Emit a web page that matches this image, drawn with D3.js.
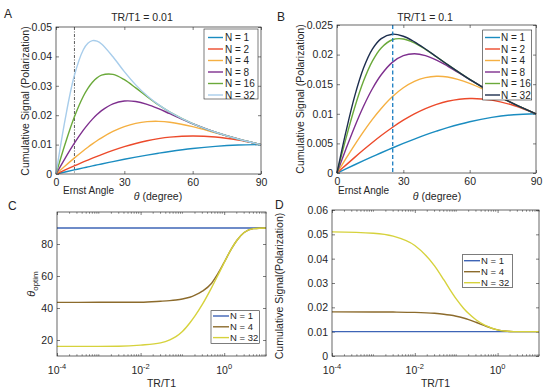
<!DOCTYPE html>
<html><head><meta charset="utf-8">
<script src="https://cdn.jsdelivr.net/npm/d3@7"></script>
<style>
body{margin:0;background:#fff}
svg text{font-family:"Liberation Sans",Arial,Helvetica,sans-serif;fill:#262626}
</style>
</head><body>
<svg id="chart" width="550" height="392"></svg>
<script>
// ---------------- DATA ----------------
const seriesAB = ["N = 1", "N = 2", "N = 4", "N = 8", "N = 16", "N = 32"];
const seriesCD = ["N = 1", "N = 4", "N = 32"];

// Panel A : TR/T1 = 0.01  (theta in degrees, cumulative signal)
const titleA = "TR/T1 = 0.01";
const ernstA = 8.1;
const thetaA = [0, 4, 8, 12, 14, 16, 18, 20, 25, 30, 35, 40, 45, 50, 60, 70, 80, 90];
const a_N1  = [0, .000698, .001392, .002079, .002419, .002756, .003090, .003420, .004226, .005000, .005736, .006428, .007071, .007660, .008660, .009397, .009848, .01];
const a_N2  = [0, .001387, .002756, .004093, .004743, .005380, .006000, .006602, .008018, .009287, .010387, .011303, .012021, .012535, .012947, .012579, .011541, .01];
const a_N4  = [0, .002739, .005405, .007931, .009120, .010252, .011319, .012317, .014474, .016114, .017220, .017804, .017913, .017612, .016120, .014021, .011882, .01];
const a_N8  = [0, .005345, .010400, .014906, .016887, .018663, .020217, .021543, .023857, .024824, .024669, .023695, .022216, .020501, .017088, .014206, .011893, .01];
const a_N16 = [0, .010183, .019278, .026437, .029135, .031222, .032708, .033634, .033881, .032074, .029285, .026289, .023498, .021052, .017150, .014208, .011893, .01];
const a_N32 = [0, .018528, .033326, .042258, .044461, .045362, .045194, .044227, .039864, .034811, .030311, .026604, .023576, .021068, .017150, .014208, .011893, .01];

// Panel B : TR/T1 = 0.1
const titleB = "TR/T1 = 0.1";
const ernstB = 25.2;
const thetaB = [0, 4, 8, 12, 16, 20, 25, 30, 35, 40, 45, 50, 60, 70, 80, 90];
const b_N1  = [0, .000698, .001392, .002079, .002756, .003420, .004226, .005000, .005736, .006428, .007071, .007660, .008660, .009397, .009848, .01];
const b_N2  = [0, .001327, .002639, .003919, .005154, .006328, .007692, .008918, .009987, .010883, .011595, .012116, .012578, .012305, .011395, .01];
const b_N4  = [0, .002409, .004757, .006989, .009053, .010897, .012865, .014394, .015474, .016112, .016342, .016214, .015153, .013483, .011677, .01];
const b_N8  = [0, .004008, .007824, .011278, .014235, .016592, .018683, .019822, .020144, .019831, .019081, .018070, .015788, .013607, .011684, .01];
const b_N16 = [0, .005773, .011075, .015525, .018898, .021125, .022505, .022640, .021979, .020888, .019616, .018306, .015816, .013608, .011684, .01];
const b_N32 = [0, .006894, .012988, .017727, .020926, .022701, .023447, .023098, .022162, .020947, .019632, .018309, .015816, .013608, .011684, .01];

// Panels C, D : versus TR/T1 (log axis)
const ratioCD = [1e-4, 1e-3, 3e-3, 1e-2, 3e-2, 5e-2, 7e-2, 0.1, 0.15, 0.2, 0.3, 0.5, 0.7, 1, 1.5, 2, 3, 5, 10];
const c_N1  = [90, 90, 90, 90, 90, 90, 90, 90, 90, 90, 90, 90, 90, 90, 90, 90, 90, 90, 90];
const c_N4  = [43.5, 43.55, 43.6, 43.6, 44.2, 44.6, 45.0, 45.6, 46.7, 48.0, 50.5, 55.5, 61.3, 68.6, 77.1, 82.2, 87.15, 89.6, 90];
const c_N32 = [16.0, 16.0, 16.1, 16.8, 18.2, 20.1, 22.1, 25.3, 30.6, 35.05, 42.2, 52.7, 60.2, 68.4, 77.1, 82.2, 87.15, 89.6, 90];
const d_N1  = [.01, .01, .01, .01, .01, .01, .01, .01, .01, .01, .01, .01, .01, .01, .01, .01, .01, .01, .01];
const d_N4  = [.01812, .01810, .01806, .01793, .01755, .01718, .01683, .016345, .015606, .01496, .013875, .01238, .011481, .01075, .010259, .010093, .010012, .01, .01];
const d_N32 = [.05099, .05044, .04924, .04541, .03704, .03134, .02738, .02345, .01964, .01742, .01489, .01258, .01152, .01075, .01026, .01009, .01001, .01, .01];

// tick values
const thetaTicks = [0, 30, 60, 90];
const yTicksA = [0, 0.01, 0.02, 0.03, 0.04, 0.05];
const yTicksB = [0, 0.005, 0.01, 0.015, 0.02, 0.025];
const yTicksC = [20, 40, 60, 80];
const yTicksD = [0, 0.01, 0.02, 0.03, 0.04, 0.05, 0.06];
const logLabelExp = [-4, -2, 0];

// ---------------- STYLE / LAYOUT ----------------
const INK = "#262626";
const FONT = '"Liberation Sans", Arial, Helvetica, sans-serif';
const colorsA = ["#1a8cc0", "#ec4a2b", "#f5b042", "#7e2f8e", "#6aa93a", "#a8cdeb"];
const colorsB = ["#1a8cc0", "#ec4a2b", "#f5b042", "#7e2f8e", "#6aa93a", "#1d2e4e"];
const colorsCD = ["#3e64b6", "#8c6b2c", "#d6d23c"];

const svg = d3.select("#chart");

const PA = {l: 56, r: 261, t: 27, b: 174};
const PB = {l: 337, r: 536, t: 25, b: 173};
const PC = {l: 57, r: 266, t: 212, b: 356};
const PD = {l: 332, r: 539, t: 210, b: 356};

function fmtNum(v) { return v === 0 ? "0" : String(+v.toFixed(3)); }

function axesFrame(p, x, y, o) {
  const g = svg.append("g").attr("font-family", FONT);
  const gb = g.append("g").attr("transform", `translate(0,${p.b})`)
    .call(d3.axisBottom(x).tickValues(o.xTicks).tickSize(-3).tickPadding(5).tickFormat(o.xFmt || (() => "")));
  g.append("g").attr("transform", `translate(0,${p.t})`)
    .call(d3.axisTop(x).tickValues(o.xTicks).tickSize(-3).tickFormat(() => ""));
  g.append("g").attr("transform", `translate(${p.l},0)`)
    .call(d3.axisLeft(y).tickValues(o.yTicks).tickSize(-3).tickPadding(4).tickFormat(o.yFmt));
  g.append("g").attr("transform", `translate(${p.r},0)`)
    .call(d3.axisRight(y).tickValues(o.yTicks).tickSize(-3).tickFormat(() => ""));
  g.selectAll("g").attr("font-family", FONT).attr("font-size", 10.5);
  g.selectAll(".domain").remove();
  g.selectAll(".tick line").attr("stroke", INK).attr("stroke-width", 0.6);
  g.selectAll(".tick text").attr("fill", INK);
  return g;
}

function box(p) {
  svg.append("rect").attr("x", p.l).attr("y", p.t).attr("width", p.r - p.l).attr("height", p.b - p.t)
    .attr("fill", "none").attr("stroke", INK).attr("stroke-width", 0.7);
}

function drawSeries(xs, list, x, y, colors, curve) {
  list.forEach((vals, i) => {
    const line = d3.line().x((d, j) => x(xs[j])).y(d => y(d)).curve(curve);
    svg.append("path").attr("d", line(vals)).attr("fill", "none")
      .attr("stroke", colors[i]).attr("stroke-width", 1.4).attr("stroke-linejoin", "round");
  });
}

function legend(bx, names, colors, rowY0, rowDy, lx0, lx1, tx, fs) {
  svg.append("rect").attr("x", bx.x).attr("y", bx.y).attr("width", bx.w).attr("height", bx.h)
    .attr("fill", "#fff").attr("stroke", INK).attr("stroke-width", 0.6);
  names.forEach((n, i) => {
    const yy = rowY0 + i * rowDy;
    svg.append("line").attr("x1", lx0).attr("x2", lx1).attr("y1", yy).attr("y2", yy)
      .attr("stroke", colors[i]).attr("stroke-width", 1.4);
    svg.append("text").attr("x", tx).attr("y", yy).attr("dy", "0.36em")
      .attr("font-size", fs).text(n);
  });
}

function logMinor(p, x) {
  const vals = [];
  for (let k = -4; k <= 0; k++) for (let m = 2; m <= 9; m++) vals.push(m * Math.pow(10, k));
  [-3, -1, 1].forEach(k => vals.push(Math.pow(10, k)));
  vals.forEach(v => {
    const xx = x(v);
    svg.append("line").attr("x1", xx).attr("x2", xx).attr("y1", p.b).attr("y2", p.b - 1.8).attr("stroke", INK).attr("stroke-width", 0.5);
    svg.append("line").attr("x1", xx).attr("x2", xx).attr("y1", p.t).attr("y2", p.t + 1.8).attr("stroke", INK).attr("stroke-width", 0.5);
  });
  logLabelExp.forEach(e => {
    const t = svg.append("text").attr("x", x(Math.pow(10, e))).attr("y", p.b + 18)
      .attr("text-anchor", "middle").attr("font-size", 10.5);
    t.append("tspan").text("10");
    t.append("tspan").attr("dy", -5).attr("font-size", 7.5).text(e < 0 ? "-" + Math.abs(e) : String(e));
  });
}

function panelLabel(txt, x, y) {
  svg.append("text").attr("x", x).attr("y", y).attr("font-size", 12).text(txt);
}

function ylabel(cx, cy, txt, fs) {
  return svg.append("text").attr("transform", `translate(${cx},${cy}) rotate(-90)`)
    .attr("text-anchor", "middle").attr("font-size", fs).text(txt);
}

function thetaXLabel(cx, by) {
  const t = svg.append("text").attr("x", cx).attr("y", by).attr("text-anchor", "middle").attr("font-size", 10.5);
  t.append("tspan").attr("font-style", "italic").text("\u03B8");
  t.append("tspan").text(" (degree)");
}

// ---------------- PANEL A ----------------
{
  const x = d3.scaleLinear().domain([0, 90]).range([PA.l, PA.r]);
  const y = d3.scaleLinear().domain([0, 0.05]).range([PA.b, PA.t]);
  axesFrame(PA, x, y, {xTicks: thetaTicks, yTicks: yTicksA, xFmt: d3.format("d"), yFmt: fmtNum});
  svg.append("line").attr("x1", x(ernstA)).attr("x2", x(ernstA)).attr("y1", PA.t).attr("y2", PA.b)
    .attr("stroke", "#333").attr("stroke-width", 0.8).attr("stroke-dasharray", "3,1.5,1,1.5");
  drawSeries(thetaA, [a_N1, a_N2, a_N4, a_N8, a_N16, a_N32], x, y, colorsA, d3.curveCatmullRom.alpha(0.5));
  box(PA);
  legend({x: 204, y: 29, w: 54, h: 70}, seriesAB, colorsA, 37.5, 11.5, 208, 223, 225, 10);
  panelLabel("A", 4, 18);
  svg.append("text").attr("x", 142).attr("y", 20.5).attr("text-anchor", "middle").attr("font-size", 10.5).text(titleA);
  ylabel(28.5, 101, "Cumulative Signal (Polarization)", 10.5);
  svg.append("text").attr("x", 63).attr("y", 194).attr("font-size", 10).text("Ernst Angle");
  thetaXLabel(158, 200);
}

// ---------------- PANEL B ----------------
{
  const x = d3.scaleLinear().domain([0, 90]).range([PB.l, PB.r]);
  const y = d3.scaleLinear().domain([0, 0.025]).range([PB.b, PB.t]);
  axesFrame(PB, x, y, {xTicks: thetaTicks, yTicks: yTicksB, xFmt: d3.format("d"), yFmt: fmtNum});
  drawSeries(thetaB, [b_N1, b_N2, b_N4, b_N8, b_N16, b_N32], x, y, colorsB, d3.curveCatmullRom.alpha(0.5));
  svg.append("line").attr("x1", x(ernstB)).attr("x2", x(ernstB)).attr("y1", PB.t).attr("y2", PB.b)
    .attr("stroke", "#1a7cc0").attr("stroke-width", 1.3).attr("stroke-dasharray", "4,2.5");
  box(PB);
  legend({x: 482.7, y: 30, w: 49, h: 70}, seriesAB, colorsB, 37.5, 11.5, 485, 500, 501, 10);
  panelLabel("B", 277, 21);
  svg.append("text").attr("x", 425).attr("y", 20.5).attr("text-anchor", "middle").attr("font-size", 10.5).text(titleB);
  ylabel(304, 99, "Cumulative Signal (Polarization)", 10.5);
  svg.append("text").attr("x", 338).attr("y", 194).attr("font-size", 10).text("Ernst Angle");
  thetaXLabel(437, 200);
}

// ---------------- PANEL C ----------------
{
  const x = d3.scaleLog().domain([1e-4, 10]).range([PC.l, PC.r]);
  const y = d3.scaleLinear().domain([10, 100]).range([PC.b, PC.t]);
  axesFrame(PC, x, y, {xTicks: logLabelExp.map(e => Math.pow(10, e)), yTicks: yTicksC, yFmt: d3.format("d")});
  logMinor(PC, x);
  drawSeries(ratioCD, [c_N1, c_N4, c_N32], x, y, colorsCD, d3.curveMonotoneX);
  box(PC);
  legend({x: 211, y: 310.7, w: 48.3, h: 32.6}, seriesCD, colorsCD, 316, 10.8, 213, 229, 230, 9.5);
  panelLabel("C", 8, 210);
  const t = svg.append("text").attr("transform", "translate(34.5,284) rotate(-90)").attr("text-anchor", "middle").attr("font-size", 11);
  t.append("tspan").attr("font-style", "italic").text("\u03B8");
  t.append("tspan").attr("dy", 3).attr("font-size", 8).text("optim");
  svg.append("text").attr("x", 161.5).attr("y", 387).attr("text-anchor", "middle").attr("font-size", 10.5).text("TR/T1");
}

// ---------------- PANEL D ----------------
{
  const x = d3.scaleLog().domain([1e-4, 10]).range([PD.l, PD.r]);
  const y = d3.scaleLinear().domain([0, 0.06]).range([PD.b, PD.t]);
  axesFrame(PD, x, y, {xTicks: logLabelExp.map(e => Math.pow(10, e)), yTicks: yTicksD, yFmt: fmtNum});
  logMinor(PD, x);
  drawSeries(ratioCD, [d_N1, d_N4, d_N32], x, y, colorsCD, d3.curveMonotoneX);
  box(PD);
  legend({x: 462.7, y: 254.3, w: 49.6, h: 33.4}, seriesCD, colorsCD, 260.7, 11, 464, 480, 481, 9.5);
  panelLabel("D", 275, 209);
  ylabel(282.5, 286, "Cumulative Signal(Polarization)", 10.5);
  svg.append("text").attr("x", 435.5).attr("y", 387).attr("text-anchor", "middle").attr("font-size", 10.5).text("TR/T1");
}
</script>
</body></html>
